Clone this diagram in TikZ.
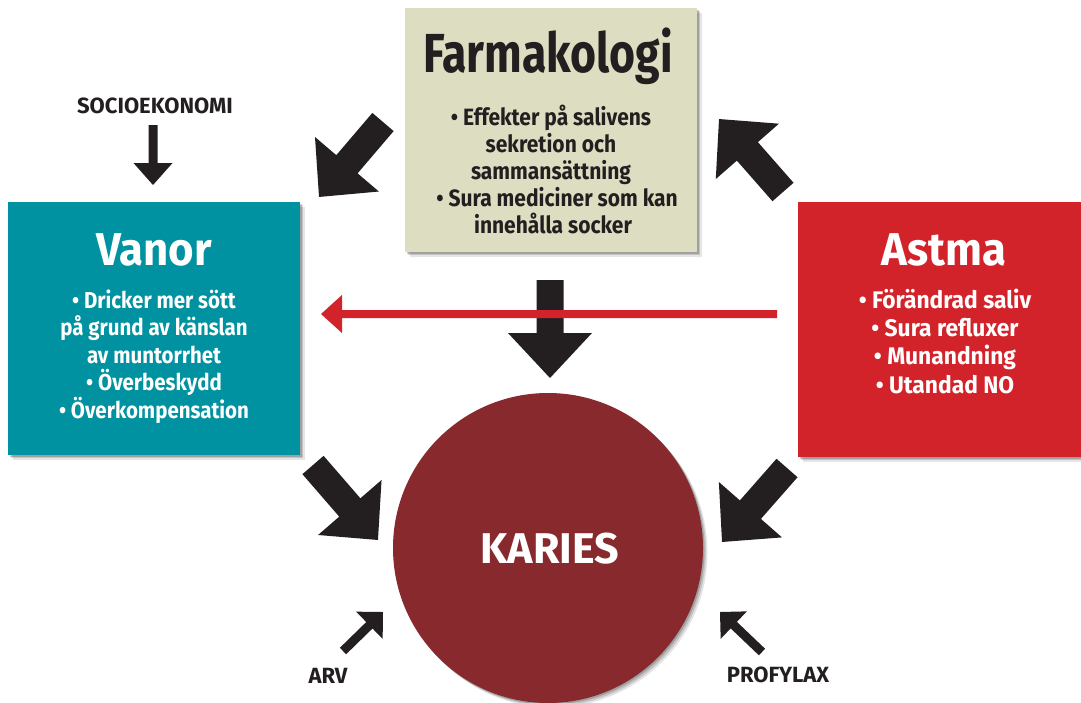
\documentclass[tikz,border=0pt]{standalone}
\usepackage{fontspec}
\setmainfont{Fira Sans}
\newfontfamily\cfa[FakeStretch=0.81]{Fira Sans}
\newfontfamily\cfb[FakeStretch=0.89]{Fira Sans}
\newfontfamily\cfc[FakeStretch=0.95]{Fira Sans}
\newfontfamily\cfd{Fira Sans}
\usetikzlibrary{calc,shadows}
\definecolor{farm}{RGB}{221,221,193}
\definecolor{vanor}{RGB}{0,146,160}
\definecolor{astma}{RGB}{210,35,42}
\definecolor{karies}{RGB}{136,42,45}
\definecolor{ink}{RGB}{35,31,32}
\newcommand\barrow[6]{%
  \fill[#6] let \p1=(#1), \p2=(#2),
    \n1={atan2(\y2-\y1,\x2-\x1)}, \n2={veclen(\x2-\x1,\y2-\y1)} in
    [shift={(\p1)}, rotate=\n1]
    (0pt,-#3) -- ({\n2*1pt-#5},-#3) -- ({\n2*1pt-#5},-#4) -- ({\n2*1pt},0pt)
    -- ({\n2*1pt-#5},#4) -- ({\n2*1pt-#5},#3) -- (0pt,#3) -- cycle;}
\begin{document}
\begin{tikzpicture}[x=1pt,y=-1pt,
  softshadow/.style={drop shadow={shadow xshift=1.5pt,shadow yshift=-1.5pt,opacity=0.18,fill=black},
                     drop shadow={shadow xshift=3pt,shadow yshift=-3pt,opacity=0.14,fill=black},
                     drop shadow={shadow xshift=4.5pt,shadow yshift=-4.5pt,opacity=0.10,fill=black}},
  box/.style={rectangle, softshadow, inner sep=0pt, anchor=north west},
  title/.style={anchor=base, inner sep=0pt, font=\cfc\bfseries\fontsize{46}{46}\selectfont},
  body/.style={anchor=base, inner sep=0pt, font=\cfb\bfseries\fontsize{23}{23}\selectfont},
  lab/.style={anchor=base, inner sep=0pt, text=ink, font=\cfd\bfseries\fontsize{22}{22}\selectfont}]
\useasboundingbox (0,0) rectangle (1081,702);
\fill[white] (0,0) rectangle (1081,702);

% boxes
\node[box, fill=farm, minimum width=292pt, minimum height=244pt] (farm) at (405,8) {};
\node[box, fill=vanor, minimum width=292pt, minimum height=253pt] (vanor) at (8,202) {};
\node[box, fill=astma, minimum width=290pt, minimum height=255pt] (astma) at (798,202) {};
\node[circle, softshadow, fill=karies, minimum size=310pt, inner sep=0pt] (karies) at (548,548) {};

% Farmakologi
\node[title, text=ink, font=\cfa\bfseries\fontsize{55}{55}\selectfont] (ft) at (548,72) {Farmakologi};
\begin{scope}[every node/.style={body, text=ink, font=\cfb\bfseries\fontsize{23.6}{23.6}\selectfont}]
\node (f1) at (551,125) {• Effekter på salivens};
\node (f2) at (551,152) {sekretion och};
\node (f3) at (551,179) {sammansättning};
\node (f4) at (557,206) {• Sura mediciner som kan};
\node (f5) at (553,233) {innehålla socker};
\end{scope}

% Vanor
\node[title, text=white] (vt) at (154,265) {Vanor};
\begin{scope}[every node/.style={body, text=white}]
\node (v1) at (154,308) {• Dricker mer sött};
\node (v2) at (154,335.5) {på grund av känslan};
\node (v3) at (154,363) {av muntorrhet};
\node (v4) at (154,390.5) {• Överbeskydd};
\node (v5) at (154,418) {• Överkompensation};
\end{scope}

% Astma
\node[title, text=white] (at) at (944,265) {Astma};
\begin{scope}[every node/.style={body, text=white, font=\cfc\bfseries\fontsize{24}{24}\selectfont}]
\node (a1) at (945,308) {• Förändrad saliv};
\node (a2) at (945,336) {• Sura refluxer};
\node (a3) at (945,364.5) {• Munandning};
\node (a4) at (945,393) {• Utandad NO};
\end{scope}

% Karies
\node[title, text=white, font=\cfd\bfseries\fontsize{43}{43}\selectfont] (kt) at (550,563) {KARIES};

% labels
\node[lab] (socio) at (155,113) {SOCIOEKONOMI};
\node[lab] (arv) at (328,683) {ARV};
\node[lab] (prof) at (778,682) {PROFYLAX};

% arrow coordinates
\coordinate (tlS) at (383,122); \coordinate (tlE) at (319,197);
\coordinate (trS) at (783,192); \coordinate (trE) at (719,119);
\coordinate (dS) at (550,280);  \coordinate (dE) at (550,378);
\coordinate (blS) at (313,465); \coordinate (blE) at (378,540);
\coordinate (brS) at (787,468); \coordinate (brE) at (722,542);
\coordinate (rS) at (777,314);  \coordinate (rE) at (321,314);
\coordinate (sS) at (153,125);  \coordinate (sE) at (153,185);
\coordinate (arS) at (343,651); \coordinate (arE) at (383,612);
\coordinate (prS) at (762,652); \coordinate (prE) at (720,612);

\barrow{tlS}{tlE}{14pt}{42pt}{43pt}{ink}
\barrow{trS}{trE}{14pt}{42pt}{43pt}{ink}
\barrow{dS}{dE}{13.5pt}{42pt}{45pt}{ink}
\barrow{blS}{blE}{14pt}{42pt}{43pt}{ink}
\barrow{brS}{brE}{14pt}{42pt}{43pt}{ink}
\barrow{rS}{rE}{4pt}{19pt}{21pt}{astma}
\barrow{sS}{sE}{4.5pt}{19.5pt}{22pt}{ink}
\barrow{arS}{arE}{4.5pt}{19pt}{19pt}{ink}
\barrow{prS}{prE}{4.5pt}{19pt}{19pt}{ink}
\end{tikzpicture}
\end{document}
